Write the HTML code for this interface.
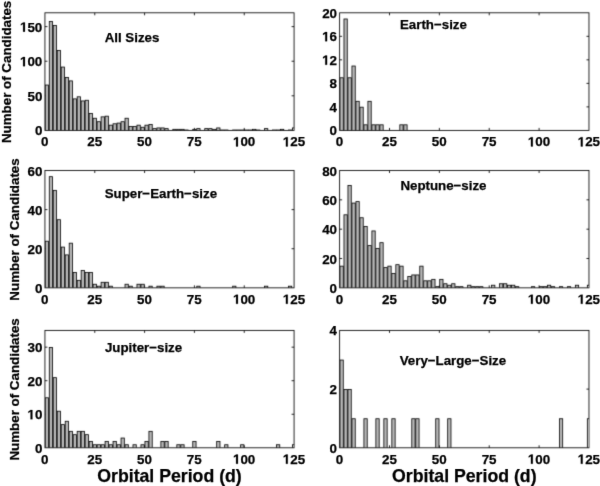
<!DOCTYPE html><html><head><meta charset="utf-8"><style>html,body{margin:0;padding:0;background:#fff;width:600px;height:486px;overflow:hidden}svg{display:block;will-change:transform}text{font-family:"Liberation Sans", sans-serif;font-weight:bold;fill:#000;stroke:#000;stroke-width:0.25px}.h{fill:none;stroke:none}.one{fill:#000;stroke:#000}</style></head><body>
<svg width="600" height="486" viewBox="0 0 600 486">
<defs><filter id="bl" x="0" y="0" width="600" height="486" filterUnits="userSpaceOnUse" color-interpolation-filters="sRGB"><feConvolveMatrix order="3" kernelMatrix="0.01690 0.09620 0.01690 0.09620 0.54760 0.09620 0.01690 0.09620 0.01690" divisor="1" edgeMode="duplicate"/></filter><filter id="bt" x="0" y="0" width="600" height="486" filterUnits="userSpaceOnUse" color-interpolation-filters="sRGB"><feConvolveMatrix order="3" kernelMatrix="0.00640 0.06720 0.00640 0.06720 0.70560 0.06720 0.00640 0.06720 0.00640" divisor="1" edgeMode="duplicate"/></filter></defs>
<g filter="url(#bl)">
<rect x="0" y="0" width="600" height="486" fill="#fff"/>
<clipPath id="c0"><rect x="44.94" y="12.80" width="249.13" height="117.60"/></clipPath>
<path d="M94.77 130.40v-2.50M94.77 12.80v2.50M144.59 130.40v-2.50M144.59 12.80v2.50M194.42 130.40v-2.50M194.42 12.80v2.50M244.24 130.40v-2.50M244.24 12.80v2.50M44.94 95.81h2.50M294.07 95.81h-2.50M44.94 61.22h2.50M294.07 61.22h-2.50M44.94 26.64h2.50M294.07 26.64h-2.50" stroke="#000" stroke-width="0.85" fill="none"/>
<rect x="44.94" y="12.80" width="249.13" height="117.60" fill="none" stroke="#000" stroke-width="0.85"/>
<g clip-path="url(#c0)" fill="#b8b8b8" stroke="#000" stroke-width="0.80"><rect x="45.29" y="85.04" width="3.29" height="45.36"/><rect x="49.28" y="21.40" width="3.29" height="109.00"/><rect x="53.26" y="25.55" width="3.29" height="104.85"/><rect x="57.25" y="50.46" width="3.29" height="79.94"/><rect x="61.23" y="67.06" width="3.29" height="63.34"/><rect x="65.22" y="77.43" width="3.29" height="52.97"/><rect x="69.21" y="80.89" width="3.29" height="49.51"/><rect x="73.19" y="98.88" width="3.29" height="31.52"/><rect x="77.18" y="96.80" width="3.29" height="33.60"/><rect x="81.16" y="100.95" width="3.29" height="29.45"/><rect x="85.15" y="100.26" width="3.29" height="30.14"/><rect x="89.14" y="113.41" width="3.29" height="16.99"/><rect x="93.12" y="118.25" width="3.29" height="12.15"/><rect x="97.11" y="121.71" width="3.29" height="8.69"/><rect x="101.10" y="116.86" width="3.29" height="13.54"/><rect x="105.08" y="116.17" width="3.29" height="14.23"/><rect x="109.07" y="125.17" width="3.29" height="5.23"/><rect x="113.05" y="123.78" width="3.29" height="6.62"/><rect x="117.04" y="123.09" width="3.29" height="7.31"/><rect x="121.03" y="121.71" width="3.29" height="8.69"/><rect x="125.01" y="118.25" width="3.29" height="12.15"/><rect x="129.00" y="126.55" width="3.29" height="3.85"/><rect x="132.98" y="126.55" width="3.29" height="3.85"/><rect x="136.97" y="125.17" width="3.29" height="5.23"/><rect x="140.96" y="127.24" width="3.29" height="3.16"/><rect x="144.94" y="125.17" width="3.29" height="5.23"/><rect x="148.93" y="124.47" width="3.29" height="5.93"/><rect x="152.91" y="128.62" width="3.29" height="1.78"/><rect x="156.90" y="127.93" width="3.29" height="2.47"/><rect x="160.89" y="127.93" width="3.29" height="2.47"/><rect x="164.87" y="128.62" width="3.29" height="1.78"/><rect x="172.84" y="129.32" width="3.29" height="1.08"/><rect x="176.83" y="129.32" width="3.29" height="1.08"/><rect x="180.82" y="129.32" width="3.29" height="1.08"/><rect x="184.80" y="130.01" width="3.29" height="0.39"/><rect x="192.77" y="129.32" width="3.29" height="1.08"/><rect x="196.76" y="128.62" width="3.29" height="1.78"/><rect x="204.73" y="128.62" width="3.29" height="1.78"/><rect x="208.72" y="128.62" width="3.29" height="1.78"/><rect x="212.71" y="129.32" width="3.29" height="1.08"/><rect x="216.69" y="127.93" width="3.29" height="2.47"/><rect x="220.68" y="130.01" width="3.29" height="0.39"/><rect x="224.66" y="130.01" width="3.29" height="0.39"/><rect x="232.64" y="130.01" width="3.29" height="0.39"/><rect x="236.62" y="130.01" width="3.29" height="0.39"/><rect x="240.61" y="130.01" width="3.29" height="0.39"/><rect x="244.59" y="130.01" width="3.29" height="0.39"/><rect x="248.58" y="130.01" width="3.29" height="0.39"/><rect x="252.57" y="129.32" width="3.29" height="1.08"/><rect x="256.55" y="130.01" width="3.29" height="0.39"/><rect x="264.52" y="128.62" width="3.29" height="1.78"/><rect x="272.50" y="130.01" width="3.29" height="0.39"/><rect x="276.48" y="130.01" width="3.29" height="0.39"/><rect x="280.47" y="129.32" width="3.29" height="1.08"/><rect x="288.44" y="130.01" width="3.29" height="0.39"/><rect x="292.43" y="127.93" width="3.29" height="2.47"/></g>
<clipPath id="c1"><rect x="339.63" y="12.80" width="249.34" height="117.60"/></clipPath>
<path d="M389.50 130.40v-2.50M389.50 12.80v2.50M439.37 130.40v-2.50M439.37 12.80v2.50M489.23 130.40v-2.50M489.23 12.80v2.50M539.10 130.40v-2.50M539.10 12.80v2.50M339.63 106.88h2.50M588.97 106.88h-2.50M339.63 83.36h2.50M588.97 83.36h-2.50M339.63 59.84h2.50M588.97 59.84h-2.50M339.63 36.32h2.50M588.97 36.32h-2.50" stroke="#000" stroke-width="0.85" fill="none"/>
<rect x="339.63" y="12.80" width="249.34" height="117.60" fill="none" stroke="#000" stroke-width="0.85"/>
<g clip-path="url(#c1)" fill="#b8b8b8" stroke="#000" stroke-width="0.80"><rect x="339.98" y="77.78" width="3.29" height="52.62"/><rect x="343.97" y="18.98" width="3.29" height="111.42"/><rect x="347.96" y="77.78" width="3.29" height="52.62"/><rect x="351.95" y="66.02" width="3.29" height="64.38"/><rect x="355.94" y="101.30" width="3.29" height="29.10"/><rect x="359.93" y="107.18" width="3.29" height="23.22"/><rect x="363.92" y="124.82" width="3.29" height="5.58"/><rect x="367.91" y="101.30" width="3.29" height="29.10"/><rect x="371.90" y="124.82" width="3.29" height="5.58"/><rect x="375.88" y="124.82" width="3.29" height="5.58"/><rect x="379.87" y="124.82" width="3.29" height="5.58"/><rect x="399.82" y="124.82" width="3.29" height="5.58"/><rect x="403.81" y="124.82" width="3.29" height="5.58"/></g>
<clipPath id="c2"><rect x="44.94" y="170.50" width="249.13" height="117.35"/></clipPath>
<path d="M94.77 287.85v-2.50M94.77 170.50v2.50M144.59 287.85v-2.50M144.59 170.50v2.50M194.42 287.85v-2.50M194.42 170.50v2.50M244.24 287.85v-2.50M244.24 170.50v2.50M44.94 248.73h2.50M294.07 248.73h-2.50M44.94 209.62h2.50M294.07 209.62h-2.50" stroke="#000" stroke-width="0.85" fill="none"/>
<rect x="44.94" y="170.50" width="249.13" height="117.35" fill="none" stroke="#000" stroke-width="0.85"/>
<g clip-path="url(#c2)" fill="#b8b8b8" stroke="#000" stroke-width="0.80"><rect x="45.29" y="241.21" width="3.29" height="46.64"/><rect x="49.28" y="176.67" width="3.29" height="111.18"/><rect x="53.26" y="190.36" width="3.29" height="97.49"/><rect x="57.25" y="219.70" width="3.29" height="68.15"/><rect x="61.23" y="247.08" width="3.29" height="40.77"/><rect x="65.22" y="254.90" width="3.29" height="32.95"/><rect x="69.21" y="243.17" width="3.29" height="44.68"/><rect x="73.19" y="272.50" width="3.29" height="15.35"/><rect x="77.18" y="280.33" width="3.29" height="7.52"/><rect x="81.16" y="270.55" width="3.29" height="17.30"/><rect x="85.15" y="272.50" width="3.29" height="15.35"/><rect x="89.14" y="272.50" width="3.29" height="15.35"/><rect x="93.12" y="284.24" width="3.29" height="3.61"/><rect x="97.11" y="286.19" width="3.29" height="1.66"/><rect x="101.10" y="282.28" width="3.29" height="5.57"/><rect x="105.08" y="282.28" width="3.29" height="5.57"/><rect x="109.07" y="286.19" width="3.29" height="1.66"/><rect x="125.01" y="284.24" width="3.29" height="3.61"/><rect x="129.00" y="286.19" width="3.29" height="1.66"/><rect x="136.97" y="284.24" width="3.29" height="3.61"/><rect x="140.96" y="284.24" width="3.29" height="3.61"/><rect x="148.93" y="286.19" width="3.29" height="1.66"/><rect x="156.90" y="286.19" width="3.29" height="1.66"/><rect x="160.89" y="286.19" width="3.29" height="1.66"/><rect x="196.76" y="286.19" width="3.29" height="1.66"/><rect x="232.64" y="286.19" width="3.29" height="1.66"/><rect x="264.52" y="286.19" width="3.29" height="1.66"/><rect x="288.44" y="286.19" width="3.29" height="1.66"/></g>
<clipPath id="c3"><rect x="339.63" y="170.50" width="249.34" height="117.35"/></clipPath>
<path d="M389.50 287.85v-2.50M389.50 170.50v2.50M439.37 287.85v-2.50M439.37 170.50v2.50M489.23 287.85v-2.50M489.23 170.50v2.50M539.10 287.85v-2.50M539.10 170.50v2.50M339.63 258.51h2.50M588.97 258.51h-2.50M339.63 229.18h2.50M588.97 229.18h-2.50M339.63 199.84h2.50M588.97 199.84h-2.50" stroke="#000" stroke-width="0.85" fill="none"/>
<rect x="339.63" y="170.50" width="249.34" height="117.35" fill="none" stroke="#000" stroke-width="0.85"/>
<g clip-path="url(#c3)" fill="#b8b8b8" stroke="#000" stroke-width="0.80"><rect x="339.98" y="266.15" width="3.29" height="21.70"/><rect x="343.97" y="214.81" width="3.29" height="73.04"/><rect x="347.96" y="185.47" width="3.29" height="102.38"/><rect x="351.95" y="203.07" width="3.29" height="84.78"/><rect x="355.94" y="201.60" width="3.29" height="86.25"/><rect x="359.93" y="217.74" width="3.29" height="70.11"/><rect x="363.92" y="226.54" width="3.29" height="61.31"/><rect x="367.91" y="245.61" width="3.29" height="42.24"/><rect x="371.90" y="230.94" width="3.29" height="56.91"/><rect x="375.88" y="248.54" width="3.29" height="39.31"/><rect x="379.87" y="242.68" width="3.29" height="45.17"/><rect x="383.86" y="267.61" width="3.29" height="20.24"/><rect x="387.85" y="266.15" width="3.29" height="21.70"/><rect x="391.84" y="273.48" width="3.29" height="14.37"/><rect x="395.83" y="264.68" width="3.29" height="23.17"/><rect x="399.82" y="266.15" width="3.29" height="21.70"/><rect x="403.81" y="280.82" width="3.29" height="7.03"/><rect x="407.80" y="276.42" width="3.29" height="11.44"/><rect x="411.79" y="274.95" width="3.29" height="12.90"/><rect x="415.78" y="274.95" width="3.29" height="12.90"/><rect x="419.77" y="266.15" width="3.29" height="21.70"/><rect x="423.76" y="280.82" width="3.29" height="7.03"/><rect x="427.75" y="280.82" width="3.29" height="7.03"/><rect x="431.74" y="279.35" width="3.29" height="8.50"/><rect x="435.73" y="286.68" width="3.29" height="1.17"/><rect x="439.72" y="279.35" width="3.29" height="8.50"/><rect x="443.71" y="283.75" width="3.29" height="4.10"/><rect x="447.69" y="285.22" width="3.29" height="2.63"/><rect x="451.68" y="283.75" width="3.29" height="4.10"/><rect x="455.67" y="286.68" width="3.29" height="1.17"/><rect x="459.66" y="286.68" width="3.29" height="1.17"/><rect x="467.64" y="285.22" width="3.29" height="2.63"/><rect x="471.63" y="286.68" width="3.29" height="1.17"/><rect x="475.62" y="286.68" width="3.29" height="1.17"/><rect x="479.61" y="286.68" width="3.29" height="1.17"/><rect x="491.58" y="285.22" width="3.29" height="2.63"/><rect x="499.56" y="283.75" width="3.29" height="4.10"/><rect x="503.55" y="283.75" width="3.29" height="4.10"/><rect x="507.54" y="285.22" width="3.29" height="2.63"/><rect x="511.53" y="285.22" width="3.29" height="2.63"/><rect x="515.52" y="286.68" width="3.29" height="1.17"/><rect x="531.47" y="286.68" width="3.29" height="1.17"/><rect x="539.45" y="286.68" width="3.29" height="1.17"/><rect x="543.44" y="286.68" width="3.29" height="1.17"/><rect x="547.43" y="285.22" width="3.29" height="2.63"/><rect x="551.42" y="286.68" width="3.29" height="1.17"/><rect x="559.40" y="286.68" width="3.29" height="1.17"/><rect x="567.38" y="286.68" width="3.29" height="1.17"/><rect x="575.36" y="285.22" width="3.29" height="2.63"/><rect x="587.33" y="285.22" width="3.29" height="2.63"/></g>
<clipPath id="c4"><rect x="44.94" y="330.40" width="249.13" height="117.40"/></clipPath>
<path d="M94.77 447.80v-2.50M94.77 330.40v2.50M144.59 447.80v-2.50M144.59 330.40v2.50M194.42 447.80v-2.50M194.42 330.40v2.50M244.24 447.80v-2.50M244.24 330.40v2.50M44.94 414.26h2.50M294.07 414.26h-2.50M44.94 380.71h2.50M294.07 380.71h-2.50M44.94 347.17h2.50M294.07 347.17h-2.50" stroke="#000" stroke-width="0.85" fill="none"/>
<rect x="44.94" y="330.40" width="249.13" height="117.40" fill="none" stroke="#000" stroke-width="0.85"/>
<g clip-path="url(#c4)" fill="#b8b8b8" stroke="#000" stroke-width="0.80"><rect x="45.29" y="397.79" width="3.29" height="50.01"/><rect x="49.28" y="347.47" width="3.29" height="100.33"/><rect x="53.26" y="377.66" width="3.29" height="70.14"/><rect x="57.25" y="411.20" width="3.29" height="36.60"/><rect x="61.23" y="424.62" width="3.29" height="23.18"/><rect x="65.22" y="421.27" width="3.29" height="26.53"/><rect x="69.21" y="431.33" width="3.29" height="16.47"/><rect x="73.19" y="434.68" width="3.29" height="13.12"/><rect x="77.18" y="431.33" width="3.29" height="16.47"/><rect x="81.16" y="431.33" width="3.29" height="16.47"/><rect x="85.15" y="434.68" width="3.29" height="13.12"/><rect x="89.14" y="441.39" width="3.29" height="6.41"/><rect x="93.12" y="444.75" width="3.29" height="3.05"/><rect x="97.11" y="444.75" width="3.29" height="3.05"/><rect x="101.10" y="444.75" width="3.29" height="3.05"/><rect x="105.08" y="441.39" width="3.29" height="6.41"/><rect x="109.07" y="444.75" width="3.29" height="3.05"/><rect x="113.05" y="441.39" width="3.29" height="6.41"/><rect x="117.04" y="444.75" width="3.29" height="3.05"/><rect x="121.03" y="438.04" width="3.29" height="9.76"/><rect x="125.01" y="444.75" width="3.29" height="3.05"/><rect x="132.98" y="444.75" width="3.29" height="3.05"/><rect x="140.96" y="444.75" width="3.29" height="3.05"/><rect x="144.94" y="441.39" width="3.29" height="6.41"/><rect x="148.93" y="431.33" width="3.29" height="16.47"/><rect x="160.89" y="441.39" width="3.29" height="6.41"/><rect x="164.87" y="441.39" width="3.29" height="6.41"/><rect x="176.83" y="444.75" width="3.29" height="3.05"/><rect x="180.82" y="444.75" width="3.29" height="3.05"/><rect x="192.77" y="441.39" width="3.29" height="6.41"/><rect x="216.69" y="441.39" width="3.29" height="6.41"/><rect x="224.66" y="444.75" width="3.29" height="3.05"/><rect x="240.61" y="444.75" width="3.29" height="3.05"/><rect x="276.48" y="444.75" width="3.29" height="3.05"/><rect x="292.43" y="444.75" width="3.29" height="3.05"/></g>
<clipPath id="c5"><rect x="339.63" y="330.40" width="249.34" height="117.40"/></clipPath>
<path d="M389.50 447.80v-2.50M389.50 330.40v2.50M439.37 447.80v-2.50M439.37 330.40v2.50M489.23 447.80v-2.50M489.23 330.40v2.50M539.10 447.80v-2.50M539.10 330.40v2.50M339.63 389.10h2.50M588.97 389.10h-2.50" stroke="#000" stroke-width="0.85" fill="none"/>
<rect x="339.63" y="330.40" width="249.34" height="117.40" fill="none" stroke="#000" stroke-width="0.85"/>
<g clip-path="url(#c5)" fill="#b8b8b8" stroke="#000" stroke-width="0.80"><rect x="339.98" y="360.05" width="3.29" height="87.75"/><rect x="343.97" y="389.40" width="3.29" height="58.40"/><rect x="347.96" y="389.40" width="3.29" height="58.40"/><rect x="351.95" y="418.75" width="3.29" height="29.05"/><rect x="363.92" y="418.75" width="3.29" height="29.05"/><rect x="375.88" y="418.75" width="3.29" height="29.05"/><rect x="383.86" y="418.75" width="3.29" height="29.05"/><rect x="391.84" y="418.75" width="3.29" height="29.05"/><rect x="411.79" y="418.75" width="3.29" height="29.05"/><rect x="415.78" y="418.75" width="3.29" height="29.05"/><rect x="435.73" y="418.75" width="3.29" height="29.05"/><rect x="447.69" y="418.75" width="3.29" height="29.05"/><rect x="559.40" y="418.75" width="3.29" height="29.05"/><rect x="587.33" y="418.75" width="3.29" height="29.05"/></g>
</g><g filter="url(#bt)">
<text x="41.11" y="146.40" font-size="13.4">0</text>
<text x="87.21" y="146.40" font-size="13.4">25</text>
<text x="137.04" y="146.40" font-size="13.4">50</text>
<text x="186.87" y="146.40" font-size="13.4">75</text>
<text x="232.97" y="146.40" font-size="13.4"><tspan class="h">1</tspan>00</text>
<path class="one" transform="translate(232.965 146.400) scale(0.006543 -0.006543)" d="M478 0L478 1170L140 959L140 1180L493 1409L759 1409L759 0Z" stroke-width="38.2"/>
<text x="282.79" y="146.40" font-size="13.4"><tspan class="h">1</tspan>25</text>
<path class="one" transform="translate(282.791 146.400) scale(0.006543 -0.006543)" d="M478 0L478 1170L140 959L140 1180L493 1409L759 1409L759 0Z" stroke-width="38.2"/>
<text x="34.89" y="135.40" font-size="13.4">0</text>
<text x="27.44" y="100.81" font-size="13.4">50</text>
<text x="19.98" y="66.22" font-size="13.4"><tspan class="h">1</tspan>00</text>
<path class="one" transform="translate(19.983 66.224) scale(0.006543 -0.006543)" d="M478 0L478 1170L140 959L140 1180L493 1409L759 1409L759 0Z" stroke-width="38.2"/>
<text x="19.98" y="31.64" font-size="13.4"><tspan class="h">1</tspan>50</text>
<path class="one" transform="translate(19.983 31.635) scale(0.006543 -0.006543)" d="M478 0L478 1170L140 959L140 1180L493 1409L759 1409L759 0Z" stroke-width="38.2"/>
<text x="104.70" y="41.80" font-size="13.3">All Sizes</text>
<text x="335.80" y="146.40" font-size="13.4">0</text>
<text x="381.95" y="146.40" font-size="13.4">25</text>
<text x="431.81" y="146.40" font-size="13.4">50</text>
<text x="481.68" y="146.40" font-size="13.4">75</text>
<text x="527.82" y="146.40" font-size="13.4"><tspan class="h">1</tspan>00</text>
<path class="one" transform="translate(527.823 146.400) scale(0.006543 -0.006543)" d="M478 0L478 1170L140 959L140 1180L493 1409L759 1409L759 0Z" stroke-width="38.2"/>
<text x="577.69" y="146.40" font-size="13.4"><tspan class="h">1</tspan>25</text>
<path class="one" transform="translate(577.691 146.400) scale(0.006543 -0.006543)" d="M478 0L478 1170L140 959L140 1180L493 1409L759 1409L759 0Z" stroke-width="38.2"/>
<text x="329.58" y="135.40" font-size="13.4">0</text>
<text x="329.58" y="111.88" font-size="13.4">4</text>
<text x="329.58" y="88.36" font-size="13.4">8</text>
<text x="322.13" y="64.84" font-size="13.4"><tspan class="h">1</tspan>2</text>
<path class="one" transform="translate(322.125 64.840) scale(0.006543 -0.006543)" d="M478 0L478 1170L140 959L140 1180L493 1409L759 1409L759 0Z" stroke-width="38.2"/>
<text x="322.13" y="41.32" font-size="13.4"><tspan class="h">1</tspan>6</text>
<path class="one" transform="translate(322.125 41.320) scale(0.006543 -0.006543)" d="M478 0L478 1170L140 959L140 1180L493 1409L759 1409L759 0Z" stroke-width="38.2"/>
<text x="322.13" y="17.80" font-size="13.4">20</text>
<text x="400.00" y="29.40" font-size="13.3">Earth−size</text>
<text x="41.11" y="303.85" font-size="13.4">0</text>
<text x="87.21" y="303.85" font-size="13.4">25</text>
<text x="137.04" y="303.85" font-size="13.4">50</text>
<text x="186.87" y="303.85" font-size="13.4">75</text>
<text x="232.97" y="303.85" font-size="13.4"><tspan class="h">1</tspan>00</text>
<path class="one" transform="translate(232.965 303.850) scale(0.006543 -0.006543)" d="M478 0L478 1170L140 959L140 1180L493 1409L759 1409L759 0Z" stroke-width="38.2"/>
<text x="282.79" y="303.85" font-size="13.4"><tspan class="h">1</tspan>25</text>
<path class="one" transform="translate(282.791 303.850) scale(0.006543 -0.006543)" d="M478 0L478 1170L140 959L140 1180L493 1409L759 1409L759 0Z" stroke-width="38.2"/>
<text x="34.89" y="292.85" font-size="13.4">0</text>
<text x="27.44" y="253.73" font-size="13.4">20</text>
<text x="27.44" y="214.62" font-size="13.4">40</text>
<text x="27.44" y="175.50" font-size="13.4">60</text>
<text x="104.70" y="198.30" font-size="13.3">Super−Earth−size</text>
<text x="335.80" y="303.85" font-size="13.4">0</text>
<text x="381.95" y="303.85" font-size="13.4">25</text>
<text x="431.81" y="303.85" font-size="13.4">50</text>
<text x="481.68" y="303.85" font-size="13.4">75</text>
<text x="527.82" y="303.85" font-size="13.4"><tspan class="h">1</tspan>00</text>
<path class="one" transform="translate(527.823 303.850) scale(0.006543 -0.006543)" d="M478 0L478 1170L140 959L140 1180L493 1409L759 1409L759 0Z" stroke-width="38.2"/>
<text x="577.69" y="303.85" font-size="13.4"><tspan class="h">1</tspan>25</text>
<path class="one" transform="translate(577.691 303.850) scale(0.006543 -0.006543)" d="M478 0L478 1170L140 959L140 1180L493 1409L759 1409L759 0Z" stroke-width="38.2"/>
<text x="329.58" y="292.85" font-size="13.4">0</text>
<text x="322.13" y="263.51" font-size="13.4">20</text>
<text x="322.13" y="234.18" font-size="13.4">40</text>
<text x="322.13" y="204.84" font-size="13.4">60</text>
<text x="322.13" y="175.50" font-size="13.4">80</text>
<text x="400.40" y="190.00" font-size="13.3">Neptune−size</text>
<text x="41.11" y="463.80" font-size="13.4">0</text>
<text x="87.21" y="463.80" font-size="13.4">25</text>
<text x="137.04" y="463.80" font-size="13.4">50</text>
<text x="186.87" y="463.80" font-size="13.4">75</text>
<text x="232.97" y="463.80" font-size="13.4"><tspan class="h">1</tspan>00</text>
<path class="one" transform="translate(232.965 463.800) scale(0.006543 -0.006543)" d="M478 0L478 1170L140 959L140 1180L493 1409L759 1409L759 0Z" stroke-width="38.2"/>
<text x="282.79" y="463.80" font-size="13.4"><tspan class="h">1</tspan>25</text>
<path class="one" transform="translate(282.791 463.800) scale(0.006543 -0.006543)" d="M478 0L478 1170L140 959L140 1180L493 1409L759 1409L759 0Z" stroke-width="38.2"/>
<text x="34.89" y="452.80" font-size="13.4">0</text>
<text x="27.44" y="419.26" font-size="13.4"><tspan class="h">1</tspan>0</text>
<path class="one" transform="translate(27.435 419.257) scale(0.006543 -0.006543)" d="M478 0L478 1170L140 959L140 1180L493 1409L759 1409L759 0Z" stroke-width="38.2"/>
<text x="27.44" y="385.71" font-size="13.4">20</text>
<text x="27.44" y="352.17" font-size="13.4">30</text>
<text x="104.90" y="352.00" font-size="13.3">Jupiter−size</text>
<text x="335.80" y="463.80" font-size="13.4">0</text>
<text x="381.95" y="463.80" font-size="13.4">25</text>
<text x="431.81" y="463.80" font-size="13.4">50</text>
<text x="481.68" y="463.80" font-size="13.4">75</text>
<text x="527.82" y="463.80" font-size="13.4"><tspan class="h">1</tspan>00</text>
<path class="one" transform="translate(527.823 463.800) scale(0.006543 -0.006543)" d="M478 0L478 1170L140 959L140 1180L493 1409L759 1409L759 0Z" stroke-width="38.2"/>
<text x="577.69" y="463.80" font-size="13.4"><tspan class="h">1</tspan>25</text>
<path class="one" transform="translate(577.691 463.800) scale(0.006543 -0.006543)" d="M478 0L478 1170L140 959L140 1180L493 1409L759 1409L759 0Z" stroke-width="38.2"/>
<text x="329.58" y="452.80" font-size="13.4">0</text>
<text x="329.58" y="394.10" font-size="13.4">2</text>
<text x="329.58" y="335.40" font-size="13.4">4</text>
<text x="399.70" y="365.30" font-size="13.3">Very−Large−Size</text>
<text transform="translate(11.45 71.90) rotate(-90)" font-size="13.35" text-anchor="middle">Number of Candidates</text>
<text transform="translate(18.90 229.48) rotate(-90)" font-size="13.35" text-anchor="middle">Number of Candidates</text>
<text transform="translate(18.90 389.40) rotate(-90)" font-size="13.35" text-anchor="middle">Number of Candidates</text>
<text x="169.50" y="482.00" font-size="17.7" text-anchor="middle">Orbital Period (d)</text>
<text x="464.30" y="482.00" font-size="17.7" text-anchor="middle">Orbital Period (d)</text>
</g></svg></body></html>
